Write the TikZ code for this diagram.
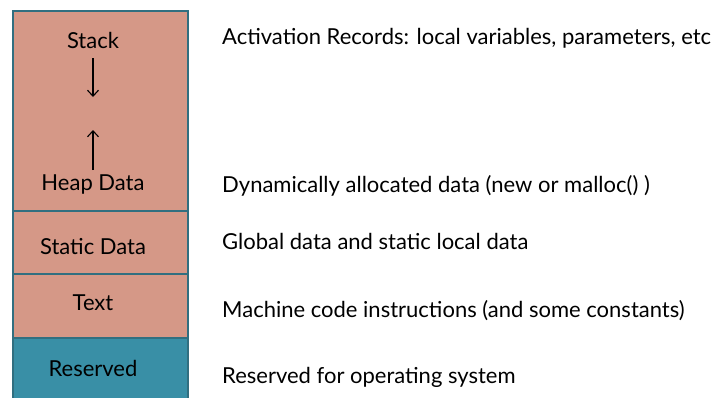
\documentclass[tikz,border=0pt]{standalone}
\usepackage{fontspec}
\setmainfont{Lato}
\usetikzlibrary{arrows.meta}
\definecolor{segfill}{RGB}{213,152,135}
\definecolor{resfill}{RGB}{57,143,166}
\definecolor{segline}{RGB}{49,111,128}
\tikzset{
	seg/.style={draw=segline, line width=2pt, fill=segfill, anchor=north west,
		minimum width=175pt, inner sep=0pt},
	lbl/.style={inner sep=0pt, font=\fontsize{22}{24}\selectfont},
	note/.style={lbl, anchor=west},
	growarrow/.style={line width=1.1pt, -{Straight Barb[length=6pt,width=11pt]}}
}
\begin{document}
\begin{tikzpicture}[x=1pt,y=-1pt]
	\useasboundingbox (0,0) rectangle (716,397);
	% memory segments, top to bottom
	\path
		 (12,  10) node[seg, minimum height=200pt] (dyn)      {}
		 (12, 210) node[seg, minimum height=63pt]  (static)   {}
		 (12, 273) node[seg, minimum height=64pt]  (text)     {}
		 (12, 337) node[seg, minimum height=64pt, fill=resfill] (reserved) {}
	;
	\path
		 (93,  40) node[lbl] (stack)     {Stack}
		 (93, 185) node[lbl] (heap)      {Heap Data}
		 (93, 247) node[lbl] (staticlbl) {Static Data}
		 (93, 303) node[lbl] (textlbl)   {Text}
		 (93, 368) node[lbl] (reslbl)    {Reserved}
	;
	\coordinate (down) at (93, 97);
	\coordinate (up)   at (93,130);
	\draw[growarrow]  (stack) ++(0,18) coordinate (s) (s) -- (down);
	\draw[growarrow]  (heap) ++(0,-15) coordinate (h) (h) -- (up);
	% descriptions
	\path
		 (222,  38) node[note] (dynnote)    {Activation Records: local variables, parameters, etc}
		 (222, 186) node[note] (heapnote)   {Dynamically allocated data (new or malloc() )}
		 (222, 241) node[note] (staticnote) {Global data and static local data}
		 (222, 311) node[note] (textnote)   {Machine code instructions (and some constants)}
		 (222, 377) node[note] (resnote)    {Reserved for operating system}
	;
\end{tikzpicture}
\end{document}
